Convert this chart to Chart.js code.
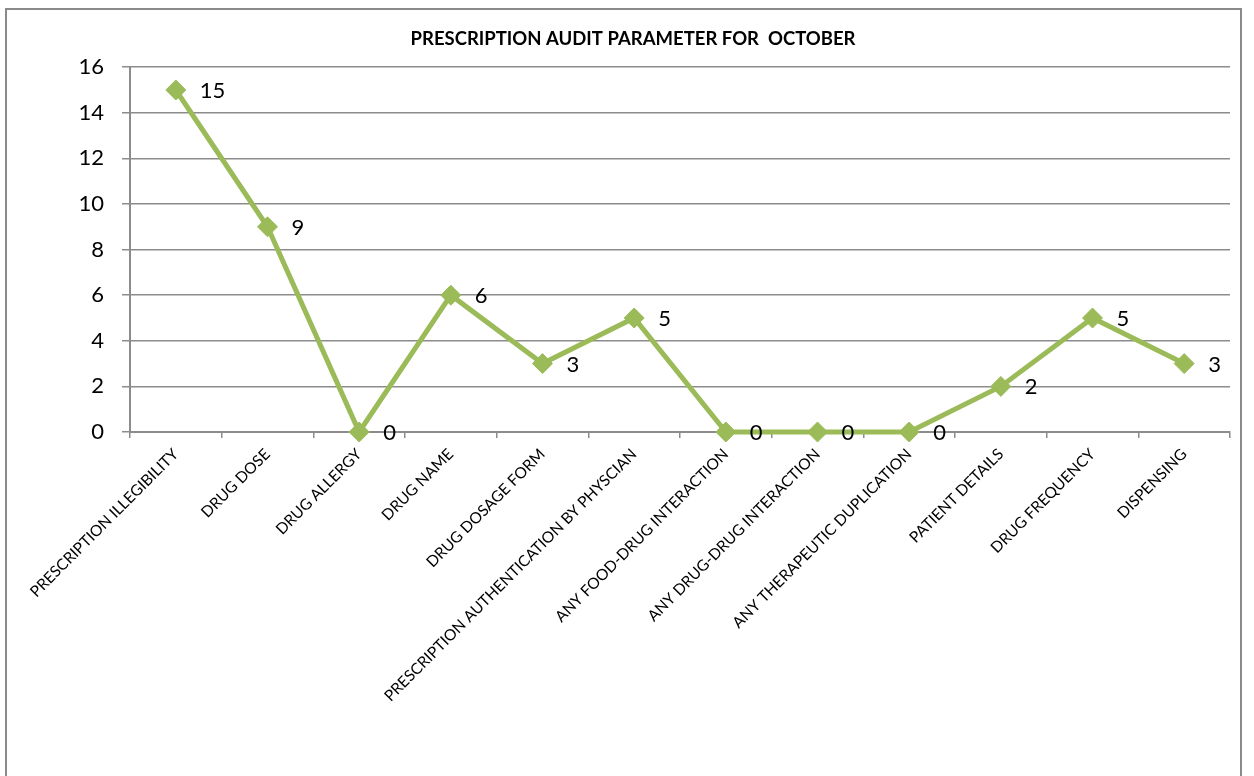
<!DOCTYPE html>
<html>
<head>
<meta charset="utf-8">
<script src="https://cdn.jsdelivr.net/npm/chart.js@4.4.1/dist/chart.umd.min.js"></script>
<style>
  html, body { margin: 0; padding: 0; background: #fff; }
  #frame { position: absolute; left: 5px; top: 8px; width: 1237px; height: 800px; border: 2px solid #8a8a8a; box-sizing: border-box; }
  #wrap { position: absolute; left: 0; top: 0; width: 1254px; height: 776px; }
</style>
</head>
<body>
<div id="frame"></div>
<div id="wrap"><canvas id="chart"></canvas></div>
<script>
const categories = [
  'PRESCRIPTION ILLEGIBILITY',
  'DRUG DOSE',
  'DRUG ALLERGY',
  'DRUG NAME',
  'DRUG DOSAGE FORM',
  'PRESCRIPTION AUTHENTICATION BY PHYSCIAN',
  'ANY FOOD-DRUG INTERACTION',
  'ANY DRUG-DRUG INTERACTION',
  'ANY THERAPEUTIC DUPLICATION',
  'PATIENT DETAILS',
  'DRUG FREQUENCY',
  'DISPENSING'
];
const counts = [15, 9, 0, 6, 3, 5, 0, 0, 0, 2, 5, 3];
const yMin = 0, yMax = 16, yStep = 2;

const GREEN = '#9bbb59';
const GRID = '#8c8c8c';

// value labels sit just right of each marker
const pointLabels = {
  id: 'pointLabels',
  afterDatasetsDraw(chart) {
    const ctx = chart.ctx;
    const meta = chart.getDatasetMeta(0);
    ctx.save();
    ctx.font = '22px Lato';
    ctx.fillStyle = '#000';
    ctx.textAlign = 'left';
    ctx.textBaseline = 'middle';
    meta.data.forEach((pt, i) => ctx.fillText(String(counts[i]), pt.x + 24, pt.y + 1));
    ctx.restore();
  }
};

new Chart(document.getElementById('chart'), {
  type: 'line',
  data: {
    labels: categories,
    datasets: [{
      label: 'Count',
      data: counts,
      clip: false,
      borderColor: GREEN,
      backgroundColor: GREEN,
      borderWidth: 5,
      tension: 0,
      pointStyle: 'rectRot',
      pointRadius: 10,
      pointBorderWidth: 1,
      pointBackgroundColor: GREEN,
      pointBorderColor: GREEN
    }]
  },
  options: {
    responsive: true,
    maintainAspectRatio: false,
    animation: false,
    // left padding shifts the title centre; the y axis width makes up the rest
    layout: { padding: { left: 36, right: 24, top: 0, bottom: 0 } },
    plugins: {
      legend: { display: false },
      tooltip: { enabled: false },
      title: {
        display: true,
        text: 'PRESCRIPTION AUDIT PARAMETER FOR  OCTOBER',
        color: '#000',
        font: { family: 'Lato', size: 18.5, weight: 'bold' },
        padding: { top: 28, bottom: 17 }
      }
    },
    scales: {
      x: {
        offset: true,
        afterFit: s => { s.height = 344; },
        grid: { offset: true, drawOnChartArea: false, drawTicks: true, tickLength: 6, color: GRID, lineWidth: 1.5 },
        border: { display: true, color: GRID, width: 2 },
        ticks: {
          color: '#000',
          autoSkip: false,
          maxRotation: 45,
          minRotation: 45,
          padding: 7,
          font: { family: 'Lato', size: 15.5 }
        }
      },
      y: {
        min: yMin,
        max: yMax,
        afterFit: s => { s.width = 94; },
        grid: { color: GRID, lineWidth: 1.5, tickLength: 8, drawTicks: true },
        border: { display: true, color: GRID, width: 2 },
        ticks: {
          stepSize: yStep,
          color: '#000',
          padding: 18,
          font: { family: 'Lato', size: 22 }
        }
      }
    }
  },
  plugins: [pointLabels]
});
</script>
</body>
</html>
